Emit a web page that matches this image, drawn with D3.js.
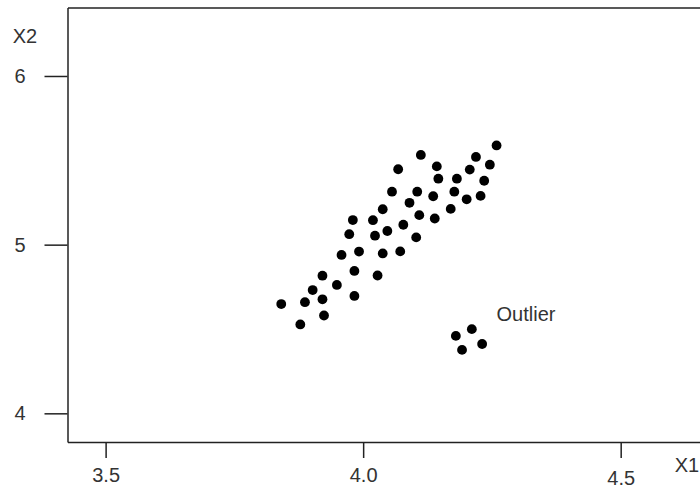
<!DOCTYPE html>
<html>
<head>
<meta charset="utf-8">
<script src="https://cdn.jsdelivr.net/npm/d3@7"></script>
<style>
  body { margin: 0; background: #fff; }
  svg { display: block; }
  .axis text { font-family: "Liberation Sans", Arial, sans-serif; font-size: 20px; fill: #333; }
  .axis path, .axis line { stroke: #222; stroke-width: 1.5; }
  .label { font-family: "Liberation Sans", Arial, sans-serif; font-size: 20px; fill: #333; }
</style>
</head>
<body>
<div id="chart"></div>
<script>
// main cloud, X1 values
const x1Main = [3.841, 3.878, 3.887, 3.902, 3.921, 3.924, 3.921, 3.949, 3.983, 3.983,
                3.958, 3.992, 3.973, 4.023, 4.038, 4.028, 4.056, 4.105, 4.136, 4.090,
                4.038, 3.980, 4.019, 4.109, 4.139, 4.078, 4.047, 4.103, 4.072, 4.259,
                4.112, 4.219, 4.246, 4.143, 4.207, 4.068, 4.146, 4.182, 4.235, 4.177,
                4.201, 4.228, 4.170];
// main cloud, X2 values
const x2Main = [4.648, 4.527, 4.659, 4.731, 4.676, 4.580, 4.816, 4.761, 4.696, 4.844,
                4.939, 4.959, 5.062, 5.053, 4.948, 4.817, 5.314, 5.314, 5.287, 5.248,
                5.210, 5.146, 5.145, 5.175, 5.155, 5.118, 5.081, 5.043, 4.960, 5.588,
                5.532, 5.520, 5.474, 5.464, 5.445, 5.447, 5.391, 5.391, 5.379, 5.314,
                5.269, 5.289, 5.212];
// outlier group
const x1Outlier = [4.180, 4.211, 4.231, 4.192];
const x2Outlier = [4.459, 4.499, 4.411, 4.376];

const xTicks = [3.5, 4.0, 4.5];
const yTicks = [4, 5, 6];
const xDomain = [3.426, 4.654];
const yDomain = [3.83, 6.406];
const annotation = {x: 4.259, y: 4.545, text: "Outlier"};

const width = 700, height = 489;
const margin = {top: 7.5, right: 0, bottom: 47, left: 67.5};

const svg = d3.select("#chart").append("svg")
    .attr("width", width)
    .attr("height", height);

const x = d3.scaleLinear().domain(xDomain).range([margin.left, width - margin.right]);
const y = d3.scaleLinear().domain(yDomain).range([height - margin.bottom, margin.top]);

// points
const points = x1Main.map((d, i) => ({x: d, y: x2Main[i]}))
    .concat(x1Outlier.map((d, i) => ({x: d, y: x2Outlier[i]})));

svg.selectAll(".dot")
    .data(points)
    .enter().append("circle")
    .attr("class", "dot")
    .attr("cx", d => x(d.x))
    .attr("cy", d => y(d.y))
    .attr("r", 4.9)
    .attr("fill", "#000");

// axes
const xAxis = svg.append("g")
    .attr("class", "axis")
    .attr("transform", "translate(0," + (height - margin.bottom) + ")")
    .call(d3.axisBottom(x).tickValues(xTicks).tickFormat(d3.format(".1f"))
        .tickSize(16).tickSizeOuter(0).tickPadding(10));
// the 4.5 label sits a little lower in the original
xAxis.selectAll(".tick text").filter(d => d === 4.5).attr("y", 29);

svg.append("g")
    .attr("class", "axis")
    .attr("transform", "translate(" + margin.left + ",0)")
    .call(d3.axisLeft(y).tickValues(yTicks).tickFormat(d3.format("d"))
        .tickSize(23).tickSizeOuter(0).tickPadding(19));

// top border
svg.append("g")
    .attr("class", "axis")
    .attr("transform", "translate(0," + margin.top + ")")
    .call(d3.axisTop(x).tickValues([]).tickSizeOuter(0));

// axis titles
svg.append("text")
    .attr("class", "label")
    .attr("x", 687)
    .attr("y", 472)
    .attr("text-anchor", "middle")
    .text("X1");

svg.append("text")
    .attr("class", "label")
    .attr("x", 25)
    .attr("y", 43)
    .attr("text-anchor", "middle")
    .text("X2");

// annotation
svg.append("text")
    .attr("class", "label")
    .attr("x", x(annotation.x))
    .attr("y", y(annotation.y))
    .text(annotation.text);
</script>
</body>
</html>
